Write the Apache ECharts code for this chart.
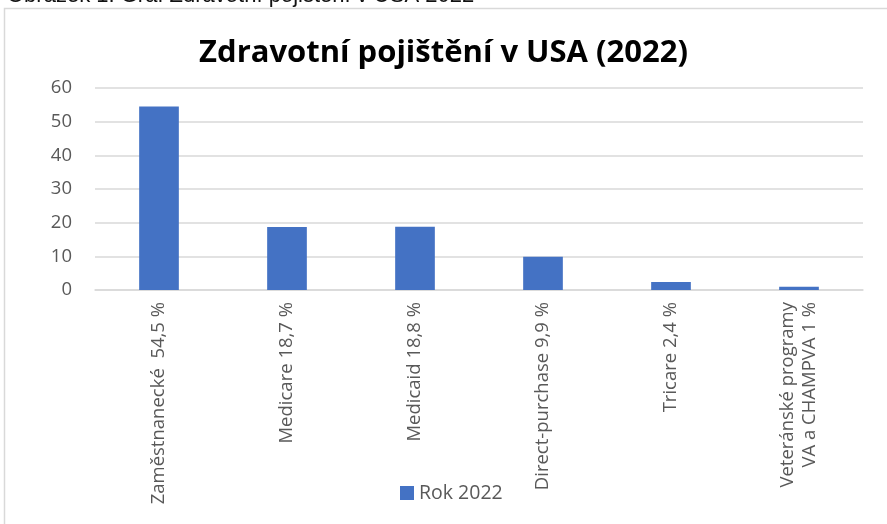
<!DOCTYPE html>
<html>
<head>
<meta charset="utf-8">
<script src="https://cdn.jsdelivr.net/npm/echarts@6/dist/echarts.min.js"></script>
<style>
html, body { margin: 0; padding: 0; background: #fff; }
#chart { width: 887px; height: 524px; }
</style>
</head>
<body>
<div id="chart"></div>
<script>
const categories = [
    'Zaměstnanecké  54,5 %',
    'Medicare 18,7 %',
    'Medicaid 18,8 %',
    'Direct-purchase 9,9 %',
    'Tricare 2,4 %',
    'Veteránské programy\nVA a CHAMPVA 1 %'
];
const values = [54.5, 18.7, 18.8, 9.9, 2.4, 1];
const seriesName = 'Rok 2022';
const titleText = 'Zdravotní pojištění v USA (2022)';
const captionText = 'Obrázek 1: Graf Zdravotní pojištění v USA 2022';

const chart = echarts.init(document.getElementById('chart'));
const font = 'Open Sans, Noto Sans, sans-serif';
chart.setOption({
    animation: false,
    title: {
        text: titleText,
        left: 'center',
        top: 33,
        textStyle: { fontFamily: font, fontSize: 31, fontWeight: 'bold', color: '#000' }
    },
    graphic: [
        {
            type: 'rect',
            shape: { x: 4.5, y: 8.5, width: 1000, height: 600 },
            style: { fill: 'none', stroke: '#d9d9d9', lineWidth: 1.5 },
            silent: true
        },
        {
            type: 'text',
            left: 7,
            top: -15,
            style: { text: captionText, fontFamily: 'Liberation Sans, Arial, sans-serif', fontSize: 22, fill: '#111' }
        }
    ],
    legend: {
        data: [seriesName],
        left: 395,
        top: 478,
        itemWidth: 14,
        itemHeight: 14,
        itemGap: 6,
        icon: 'rect',
        textStyle: { fontFamily: font, fontSize: 19.5, color: '#595959' }
    },
    grid: { left: 95, right: 24, top: 88, bottom: 234 },
    xAxis: {
        type: 'category',
        data: categories,
        axisLine: { lineStyle: { color: '#d9d9d9', width: 1.5 } },
        axisTick: { show: false },
        axisLabel: {
            rotate: 90,
            interval: 0,
            margin: 12,
            fontFamily: font,
            fontSize: 18.5,
            color: '#595959',
            lineHeight: 22
        }
    },
    yAxis: {
        type: 'value',
        min: 0,
        max: 60,
        interval: 10,
        axisLine: { show: false },
        axisTick: { show: false },
        splitLine: { lineStyle: { color: '#d9d9d9', width: 1.5 } },
        axisLabel: { fontFamily: font, fontSize: 18.5, color: '#595959', margin: 23 }
    },
    series: [
        {
            name: seriesName,
            type: 'bar',
            data: values,
            barWidth: '31%',
            itemStyle: { color: '#4472c4' }
        }
    ]
});
</script>
</body>
</html>
